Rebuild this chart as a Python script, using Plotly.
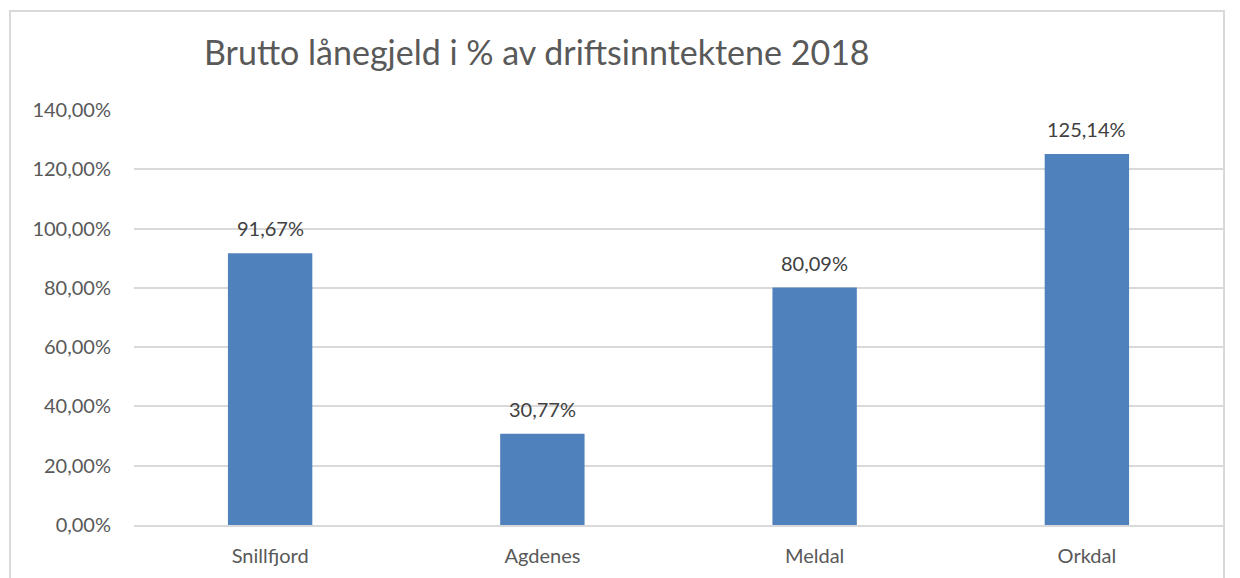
import plotly.graph_objects as go

categories = ["Snillfjord", "Agdenes", "Meldal", "Orkdal"]
values = [91.67, 30.77, 80.09, 125.14]
tick_vals = [0, 20, 40, 60, 80, 100, 120, 140]
tick_text = ["0,00%", "20,00%", "40,00%", "60,00%", "80,00%", "100,00%", "120,00%", "140,00%"]
labels = [f"{v:.2f}%".replace(".", ",") for v in values]

FONT = "Lato"
OFF = 8  # page body margin
PL, PR, PT, PB = 134, 1223, 110, 525
W = PR - PL
H = PB - PT

fig = go.Figure()
fig.add_trace(go.Bar(
    x=categories, y=values,
    marker=dict(color="#4F81BD", line=dict(width=0)),
    hoverinfo="skip",
))

for c, v, t in zip(categories, values, labels):
    fig.add_annotation(x=c, y=v, text=t, showarrow=False, yshift=25,
                       font=dict(family=FONT, size=20, color="#404040"))

fig.add_annotation(xref="paper", yref="paper", x=(537 - PL) / W, y=1 + (PT - 52) / H,
                   text="Brutto lånegjeld i % av driftsinntektene 2018", showarrow=False,
                   xanchor="center", yanchor="middle",
                   font=dict(family=FONT, size=34, color="#595959"))

fig.add_shape(type="rect", xref="paper", yref="paper",
              x0=(10 - PL) / W, x1=(1224 - PL) / W,
              y0=-0.5, y1=1 + (PT - 11) / H,
              line=dict(color="#D9D9D9", width=2), fillcolor="rgba(0,0,0,0)", layer="below")

fig.update_layout(
    width=1240, height=578,
    margin=dict(l=PL - OFF, r=1240 - PR + OFF, t=PT - OFF, b=578 - PB + OFF),
    paper_bgcolor="white", plot_bgcolor="white",
    bargap=0.69,
    showlegend=False,
    font=dict(family=FONT, size=20, color="#595959"),
    xaxis=dict(showgrid=False, showline=True, linecolor="#D9D9D9", linewidth=1.5,
               ticks="", tickfont=dict(family=FONT, size=20, color="#595959"),
               ticklabelstandoff=12),
    yaxis=dict(range=[0, 140], tickvals=tick_vals, ticktext=tick_text,
               showgrid=True, gridcolor="#D9D9D9", gridwidth=1.5,
               zeroline=False, showline=False, ticks="",
               tickfont=dict(family=FONT, size=20, color="#595959"),
               ticklabelstandoff=22),
)

fig.write_html("out.html")
